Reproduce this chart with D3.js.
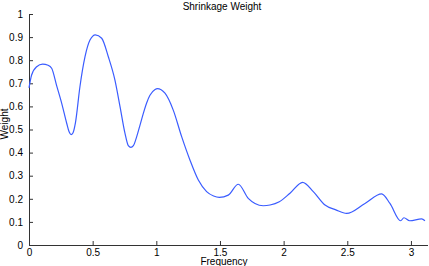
<!DOCTYPE html>
<html>
<head>
<meta charset="utf-8">
<script src="https://cdn.jsdelivr.net/npm/d3@7"></script>
<style>
html,body{margin:0;padding:0;background:#fff;}
svg{display:block;}
text{font-family:"Liberation Sans",Arial,Helvetica,sans-serif;fill:#000;}
</style>
</head>
<body>
<svg id="chart" width="429" height="266"></svg>
<script>
const frequency = [0.00,0.02,0.06,0.107,0.15,0.178,0.217,0.257,0.296,0.315,0.33,0.345,0.365,0.40,0.44,0.479,0.521,0.571,0.623,0.675,0.715,0.754,0.78,0.80,0.82,0.846,0.872,0.898,0.924,0.95,0.99,1.008,1.068,1.133,1.199,1.264,1.33,1.395,1.45,1.495,1.565,1.644,1.722,1.775,1.84,1.893,1.966,2.05,2.149,2.233,2.325,2.41,2.495,2.639,2.77,2.835,2.919,2.945,2.99,3.084,3.11];
const weight = [0.68,0.735,0.772,0.783,0.778,0.765,0.69,0.613,0.527,0.49,0.478,0.485,0.53,0.685,0.815,0.887,0.91,0.895,0.815,0.714,0.599,0.483,0.43,0.423,0.43,0.469,0.519,0.57,0.615,0.648,0.673,0.677,0.657,0.584,0.469,0.368,0.281,0.231,0.212,0.206,0.216,0.263,0.202,0.18,0.17,0.173,0.187,0.224,0.271,0.231,0.173,0.152,0.137,0.18,0.221,0.18,0.105,0.118,0.105,0.113,0.105];
const xTicks = [0,0.5,1,1.5,2,2.5,3];
const yTicks = [0,0.1,0.2,0.3,0.4,0.5,0.6,0.7,0.8,0.9,1];
const title = "Shrinkage Weight";
const xLabel = "Frequency";
const yLabel = "Weight";

const svg = d3.select("#chart");
const x = d3.scaleLinear().domain([0, 3.13]).range([29, 427.5]);
const y = d3.scaleLinear().domain([0, 1]).range([245, 14]);

const xAxis = d3.axisBottom(x).tickValues(xTicks).tickSizeInner(-4).tickSizeOuter(0)
  .tickPadding(4).tickFormat(d3.format("~g"));
const yAxis = d3.axisLeft(y).tickValues(yTicks).tickSizeInner(-4).tickSizeOuter(0)
  .tickPadding(6).tickFormat(d3.format("~g"));

const gx = svg.append("g").attr("transform","translate(0,245)").call(xAxis);
const gy = svg.append("g").attr("transform","translate(29,0)").call(yAxis);
[gx,gy].forEach(g=>{
  g.selectAll("path.domain").attr("stroke","#333").attr("stroke-width",1);
  g.selectAll(".tick line").attr("stroke","#333");
  g.selectAll("text").attr("font-size","10px").attr("font-family","Liberation Sans, Arial, sans-serif").attr("fill","#000");
});
gx.selectAll("text").attr("dy","0.71em");

const data = frequency.map((f,i)=>[f, weight[i]]);
const line = d3.line().x(d=>x(d[0])).y(d=>y(d[1])).curve(d3.curveMonotoneX);
svg.append("path").datum(data).attr("d", line)
  .attr("fill","none").attr("stroke","#3a5cff").attr("stroke-width",1.2);

svg.append("text").attr("x",222).attr("y",10).attr("text-anchor","middle")
  .attr("font-size","10px").text(title);
svg.append("text").attr("x",224).attr("y",264.5).attr("text-anchor","middle")
  .attr("font-size","10px").text(xLabel);
svg.append("text").attr("transform","translate(8,124) rotate(-90)").attr("text-anchor","middle")
  .attr("font-size","10px").text(yLabel);
</script>
</body>
</html>
